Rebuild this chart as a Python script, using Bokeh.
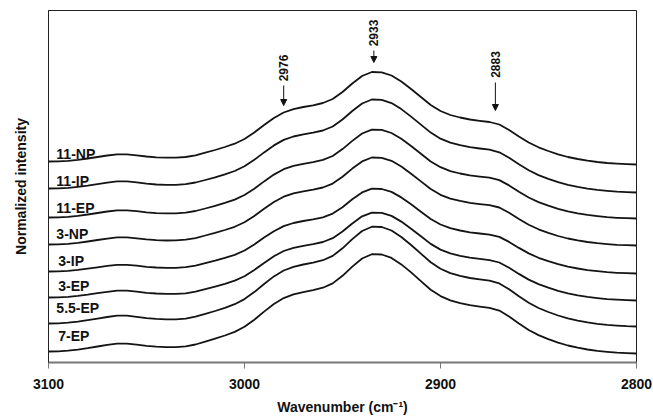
import math
from bokeh.plotting import figure
from bokeh.models import Range1d, Arrow, NormalHead, FixedTicker
from bokeh.core.properties import value
from bokeh.embed import file_html
from bokeh.resources import INLINE

# ---- data ----
wavenumber = [3100, 3095, 3090, 3085, 3080, 3075, 3070, 3065, 3060, 3055, 3050,
              3045, 3040, 3035, 3030, 3025, 3020, 3015, 3010, 3005, 3000,
              2995, 2990, 2985, 2980, 2975, 2970, 2965, 2960, 2955, 2950,
              2945, 2940, 2935, 2930, 2925, 2920, 2915, 2910, 2905, 2900,
              2895, 2890, 2885, 2880, 2875, 2870, 2865, 2860, 2855, 2850,
              2845, 2840, 2835, 2830, 2825, 2820, 2815, 2810, 2805, 2800]

np_11 = [201, 201.2, 201.7, 202.7, 204, 205.5, 207, 208.2, 208.2, 207.2, 206,
         205.2, 204.8, 204.8, 205.5, 207.2, 209.8, 212.5, 215.5, 218.8, 223.5,
         230, 237.5, 244.5, 250, 253.4, 255.5, 257.2, 259.5, 263.5, 270.5,
         279, 286.5, 290.5, 290.2, 287, 281, 273.5, 265.5, 257.5, 251.5,
         247.5, 245, 243, 241.7, 240.5, 238, 232.5, 226, 220, 215.2,
         211.5, 208.2, 205.5, 203.5, 201.8, 200.5, 199.5, 198.8, 198.3, 198]
ip_11 = [174, 174.2, 174.7, 175.7, 176.9, 178.4, 179.9, 181.1, 181.1, 180.1, 178.8,
         178.0, 177.6, 177.6, 178.3, 180.0, 182.5, 185.2, 188.2, 191.5, 196.2,
         202.7, 210.1, 217.1, 222.6, 226.0, 228.1, 229.8, 232.0, 236.0, 243.0,
         251.5, 259.0, 263.0, 262.6, 259.4, 253.4, 245.9, 237.9, 229.9, 223.8,
         219.8, 217.3, 215.3, 214.0, 212.8, 210.2, 204.7, 198.2, 192.2, 187.4,
         183.7, 180.3, 177.6, 175.6, 173.9, 172.6, 171.6, 170.8, 170.3, 170]
ep_11 = [145.0, 145.2, 145.7, 146.7, 148.0, 149.5, 151.0, 152.2, 152.2, 151.3, 150.2,
         149.4, 149.1, 149.1, 149.8, 151.5, 154.0, 156.7, 159.6, 162.9, 167.5,
         173.8, 181.1, 187.9, 193.3, 196.6, 198.7, 200.4, 202.6, 206.5, 213.4,
         221.6, 229.0, 232.9, 232.6, 229.5, 223.7, 216.5, 208.8, 201.0, 195.3,
         191.4, 189.0, 187.1, 185.9, 184.8, 182.4, 177.1, 170.8, 165.0, 160.4,
         156.8, 153.7, 151.1, 149.2, 147.6, 146.4, 145.3, 144.7, 144.3, 144.0]
np_3 = [118.0, 118.2, 118.7, 119.7, 121.0, 122.5, 123.9, 125.1, 125.2, 124.2, 123.1,
        122.4, 122.0, 122.1, 122.8, 124.4, 127.0, 129.6, 132.5, 135.7, 140.2,
        146.5, 153.7, 160.5, 165.8, 169.1, 171.1, 172.8, 175.0, 178.9, 185.7,
        193.9, 201.1, 205.0, 204.7, 201.7, 196.0, 188.8, 181.1, 173.5, 167.7,
        163.9, 161.6, 159.7, 158.4, 157.3, 155.0, 149.7, 143.5, 137.8, 133.2,
        129.7, 126.5, 124.0, 122.1, 120.5, 119.3, 118.4, 117.7, 117.3, 117.0]
ip_3 = [91.0, 91.2, 91.7, 92.6, 93.8, 95.2, 96.6, 97.7, 97.7, 96.8, 95.7,
        95.0, 94.7, 94.7, 95.3, 96.9, 99.3, 101.8, 104.6, 107.6, 112.0,
        118.0, 124.9, 131.3, 136.4, 139.5, 141.5, 143.1, 145.2, 148.9, 155.3,
        163.2, 170.1, 173.8, 173.5, 170.6, 165.1, 158.2, 150.8, 143.5, 138.0,
        134.3, 132.0, 130.2, 129.0, 127.9, 125.6, 120.6, 114.6, 109.1, 104.7,
        101.3, 98.3, 95.8, 94.0, 92.4, 91.3, 90.3, 89.7, 89.3, 89.0]
ep_3 = [65.0, 65.2, 65.7, 66.6, 67.8, 69.3, 70.7, 71.8, 71.8, 70.9, 69.7,
        69.0, 68.6, 68.6, 69.2, 70.9, 73.3, 75.9, 78.7, 81.9, 86.3,
        92.5, 99.6, 106.3, 111.5, 114.7, 116.7, 118.3, 120.5, 124.3, 131.0,
        139.0, 146.2, 149.9, 149.7, 146.6, 140.9, 133.8, 126.2, 118.6, 112.9,
        109.1, 106.7, 104.8, 103.6, 102.4, 100.0, 94.8, 88.6, 82.9, 78.4,
        74.9, 71.7, 69.1, 67.2, 65.6, 64.4, 63.4, 62.8, 62.3, 62.0]
ep_55 = [39.0, 39.2, 39.8, 40.9, 42.3, 43.9, 45.5, 46.8, 46.8, 45.7, 44.4,
         43.6, 43.2, 43.2, 43.9, 45.8, 48.6, 51.5, 54.7, 58.3, 63.4,
         70.4, 78.5, 86.1, 92.0, 95.7, 98.0, 99.8, 102.3, 106.6, 114.2,
         123.4, 131.5, 135.8, 135.5, 132.0, 125.5, 117.5, 108.8, 100.2, 93.7,
         89.4, 86.7, 84.5, 83.1, 81.8, 79.1, 73.2, 66.2, 59.7, 54.5,
         50.5, 47.0, 44.1, 41.9, 40.1, 38.7, 37.6, 36.9, 36.3, 36.0]
ep_7 = [11.0, 11.2, 11.8, 12.9, 14.3, 16.0, 17.6, 18.9, 18.9, 17.9, 16.6,
        15.8, 15.4, 15.4, 16.2, 18.0, 20.8, 23.8, 27.0, 30.6, 35.7,
        42.8, 50.9, 58.5, 64.4, 68.1, 70.4, 72.3, 74.8, 79.1, 86.7,
        95.9, 104.0, 108.3, 108.0, 104.6, 98.1, 90.1, 81.4, 72.8, 66.4,
        62.1, 59.4, 57.3, 55.9, 54.6, 51.9, 46.0, 39.0, 32.5, 27.4,
        23.4, 19.9, 17.0, 14.8, 13.0, 11.6, 10.6, 9.8, 9.3, 9.0]

series = [np_11, ip_11, ep_11, np_3, ip_3, ep_3, ep_55, ep_7]
series_names = ["11-NP", "11-IP", "11-EP", "3-NP", "3-IP", "3-EP", "5.5-EP", "7-EP"]
label_x = [3096, 3096, 3096, 3096, 3095, 3095, 3096, 3095]
label_y = [209, 182, 155, 129, 102, 77, 55, 27]

peak_x = [2980, 2934, 2872]
peak_labels = ["2976", "2933", "2883"]
peak_label_y = [294.5, 329.5, 298]
arrow_top = [277, 312, 280]
arrow_bottom = [257, 300, 252]

x_ticks = [3100, 3000, 2900, 2800]

FONT = "Liberation Sans"

p = figure(width=653, height=420, x_range=Range1d(3100, 2800), y_range=Range1d(0, 352),
           output_backend="svg", toolbar_location=None,
           min_border_left=48, min_border_right=17, min_border_top=10, min_border_bottom=58)
p.background_fill_color = "white"
p.border_fill_color = "white"
p.outline_line_color = "#222222"
p.outline_line_width = 1
p.xgrid.visible = False
p.ygrid.visible = False

for s in series:
    p.line(wavenumber, s, line_color="#141414", line_width=1.8, line_join="round")

p.text(x=label_x, y=label_y, text=series_names, text_font=value(FONT),
       text_font_style="bold", text_font_size="14px", text_color="#111111",
       text_align="left", text_baseline="middle")

p.text(x=peak_x, y=peak_label_y, text=peak_labels, angle=math.pi / 2,
       text_font=value(FONT), text_font_style="bold", text_font_size="12px",
       text_color="#111111", text_align="center", text_baseline="middle")

for xp, yt, yb in zip(peak_x, arrow_top, arrow_bottom):
    p.add_layout(Arrow(end=NormalHead(size=6, fill_color="#111111", line_color="#111111"),
                       x_start=xp, y_start=yt, x_end=xp, y_end=yb,
                       line_color="#111111", line_width=1))

# x axis
xa = p.xaxis[0]
xa.ticker = FixedTicker(ticks=x_ticks)
xa.axis_line_color = "#777777"
xa.axis_line_width = 2
xa.major_tick_line_color = "#777777"
xa.major_tick_out = 6
xa.major_tick_in = 0
xa.minor_tick_line_color = None
xa.major_label_text_font = FONT
xa.major_label_text_font_style = "bold"
xa.major_label_text_font_size = "14px"
xa.major_label_text_color = "#111111"
xa.major_label_standoff = 10
xa.axis_label = "Wavenumber (cm\u207b\u00b9)"
xa.axis_label_text_font = FONT
xa.axis_label_text_font_style = "bold"
xa.axis_label_text_font_size = "14px"
xa.axis_label_text_color = "#111111"
xa.axis_label_standoff = 7

# y axis
ya = p.yaxis[0]
ya.ticker = FixedTicker(ticks=[])
ya.major_tick_out = 0
ya.major_tick_in = 0
ya.minor_tick_line_color = None
ya.major_label_standoff = 0
ya.axis_line_color = "#222222"
ya.axis_label = "Normalized intensity"
ya.axis_label_text_font = FONT
ya.axis_label_text_font_style = "bold"
ya.axis_label_text_font_size = "14px"
ya.axis_label_text_color = "#111111"
ya.axis_label_standoff = 20

open("out.html", "w").write(file_html(p, INLINE))
